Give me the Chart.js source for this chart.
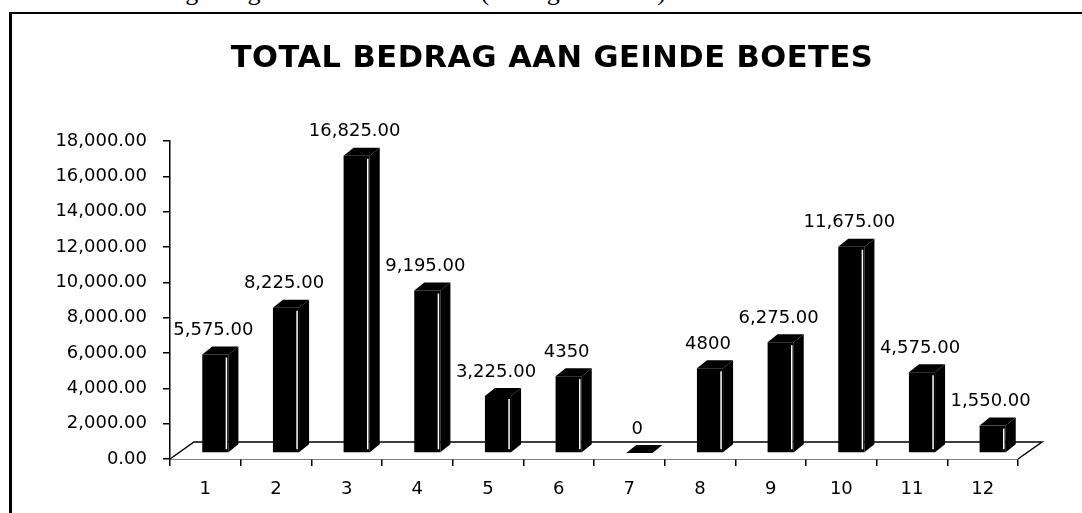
<!DOCTYPE html>
<html>
<head>
<meta charset="utf-8">
<script src="https://cdn.jsdelivr.net/npm/chart.js@4"></script>
<style>
  html, body { margin: 0; padding: 0; background: #fff; overflow: hidden; }
  #wrap { position: relative; width: 1082px; height: 513px; }
  #caption { position: absolute; left: 18px; top: -21px; font: 26px "Liberation Serif"; line-height: 26px; white-space: nowrap; }
  #frame { position: absolute; left: 9px; top: 12px; width: 1100px; height: 600px; border-left: 3px solid #000; border-top: 2px solid #000; }
  #title { position: absolute; left: 0; top: 42px; width: 1104px; text-align: center; font: bold 30.5px "DejaVu Sans"; line-height: 30px; letter-spacing: 0.5px; white-space: nowrap; }
  #box { position: absolute; left: 0; top: 0; width: 1082px; height: 513px; }
</style>
</head>
<body>
<div id="wrap">
  <div id="caption">4.4 Totaal bedrag aan geinde boetes in 2011 (bedragen in Afl.)</div>
  <div id="frame"></div>
  <div id="box"><canvas id="myChart"></canvas></div>
  <div id="title">TOTAL BEDRAG AAN GEINDE BOETES</div>
</div>
<script>
const ctx = document.getElementById('myChart');

// maanden 1 t/m 12
const labels = ['1', '2', '3', '4', '5', '6', '7', '8', '9', '10', '11', '12'];
const amounts = [5575, 8225, 16825, 9195, 3225, 4350, 0, 4800, 6275, 11675, 4575, 1550];
// labels zoals ze in het origineel staan (niet allemaal opgemaakt)
const amountText = ['5,575.00', '8,225.00', '16,825.00', '9,195.00', '3,225.00', '4350',
  '0', '4800', '6,275.00', '11,675.00', '4,575.00', '1,550.00'];
const yMax = 18000;
const yStep = 2000;

Chart.defaults.font.family = 'DejaVu Sans';
Chart.defaults.color = '#000';

// 3D look: shift of the bars, depth of side/top faces, depth of the floor
const SX = 10, SY = -6;
const DX = 10, DY = -8;
const FX = 24, FY = -17;

const floor3d = {
  id: 'floor3d',
  beforeDatasetsDraw(chart) {
    const c = chart.ctx, x = chart.scales.x, y = chart.scales.y;
    const y0 = y.getPixelForValue(0);
    c.save();
    c.fillStyle = '#fff';
    c.strokeStyle = '#000';
    c.lineWidth = 1.5;
    c.beginPath();
    c.moveTo(x.left, y0);
    c.lineTo(x.left + FX, y0 + FY);
    c.lineTo(x.right + FX, y0 + FY);
    c.lineTo(x.right, y0);
    c.fill();
    c.stroke();
    c.restore();
  }
};

const bars3d = {
  id: 'bars3d',
  beforeDatasetDraw(chart) {
    chart.ctx.save();
    chart.ctx.translate(SX, SY);
  },
  afterDatasetDraw(chart, args) {
    const c = chart.ctx;
    args.meta.data.forEach(el => {
      const l = el.x - el.width / 2, r = el.x + el.width / 2;
      const t = el.y, b = el.base;
      c.fillStyle = '#000';
      c.beginPath();
      c.moveTo(r, b);
      c.lineTo(r + DX, b + DY);
      c.lineTo(r + DX, t + DY);
      c.lineTo(r, t);
      c.closePath();
      c.fill();
      c.beginPath();
      c.moveTo(l, t);
      c.lineTo(l + DX, t + DY);
      c.lineTo(r + DX, t + DY);
      c.lineTo(r, t);
      c.closePath();
      c.fill();
      if (b - t > 6) {
        c.strokeStyle = '#fff';
        c.lineWidth = 1.5;
        c.beginPath();
        c.moveTo(r - 2, t + 3);
        c.lineTo(r - 2, b - 3);
        c.stroke();
      }
    });
    c.restore();
  }
};

const valueLabels = {
  id: 'valueLabels',
  afterDatasetsDraw(chart) {
    const c = chart.ctx, y = chart.scales.y;
    const meta = chart.getDatasetMeta(0);
    c.save();
    c.font = '18px "DejaVu Sans"';
    c.fillStyle = '#000';
    c.textAlign = 'center';
    c.textBaseline = 'middle';
    meta.data.forEach((el, i) => {
      c.fillText(amountText[i], el.x + 8, y.getPixelForValue(amounts[i]) - 30);
    });
    c.restore();
  }
};

const data = {
  labels: labels,
  datasets: [{
    data: amounts,
    backgroundColor: '#000',
    borderWidth: 0,
    categoryPercentage: 1,
    barPercentage: 0.37
  }]
};

const config = {
  type: 'bar',
  data: data,
  options: {
    responsive: true,
    maintainAspectRatio: false,
    animation: false,
    layout: { padding: { left: 0, right: 64, top: 141, bottom: 0 } },
    plugins: {
      legend: { display: false },
      tooltip: { enabled: false },
      title: { display: false }
    },
    scales: {
      x: {
        afterFit: s => { s.height = 54; },
        grid: { drawOnChartArea: false, drawTicks: true, tickLength: 7, color: '#000', lineWidth: 1.5 },
        border: { display: true, color: '#000', width: 1.5 },
        ticks: { font: { size: 18 }, padding: 13, color: '#000' }
      },
      y: {
        min: 0,
        max: yMax,
        afterFit: s => { s.width = 170; },
        grid: { drawOnChartArea: false, drawTicks: true, tickLength: 7, color: '#000', lineWidth: 1.5 },
        border: { display: true, color: '#000', width: 1.5 },
        ticks: {
          stepSize: yStep,
          padding: 16,
          color: '#000',
          font: { size: 18 },
          callback: v => v.toLocaleString('en-US', { minimumFractionDigits: 2, maximumFractionDigits: 2 })
        }
      }
    }
  },
  plugins: [floor3d, bars3d, valueLabels]
};

let chart = new Chart(ctx, config);
</script>
</body>
</html>
